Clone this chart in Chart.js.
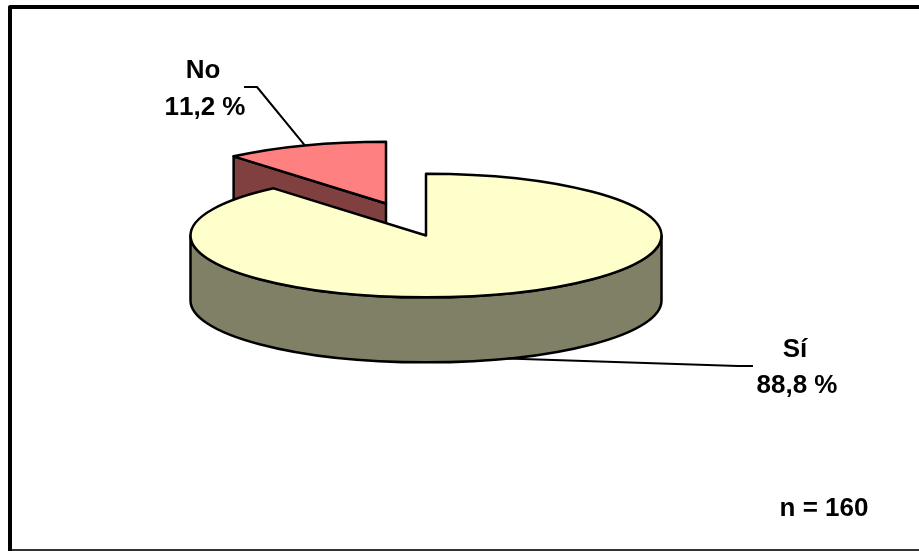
<!DOCTYPE html>
<html>
<head>
<meta charset="utf-8">
<title>Sí / No</title>
<script src="https://cdn.jsdelivr.net/npm/chart.js@4"></script>
<style>
    html, body { margin: 0; padding: 0; background: #fff; }
    #wrap { position: relative; width: 919px; height: 551px; }
    canvas { display: block; }
</style>
</head>
<body>
<div id="wrap"><canvas id="pie_chart" width="919" height="551"></canvas></div>
<script>
const categories = ["Sí", "No"];
const percentages = [88.8, 11.2];
const sampleNote = "n = 160";

const topColors = ["#FFFFCC", "#FF8080"];
const sideColors = ["#808066", "#804040"];

// how the flat pie is laid over on its side
const tilt = 62 / 236;
const depth = 65;
const explode = [{ x: 0, y: 0 }, { x: -40, y: -32 }];

const labelFont = "bold 26px 'Liberation Sans', Arial, sans-serif";

function formatPercent(value) {
    return value.toFixed(1).replace(".", ",") + " %";
}

function piePoint(arc, angle, shift) {
    return {
        x: arc.x + shift.x + Math.cos(angle) * arc.outerRadius,
        y: arc.y + shift.y + Math.sin(angle) * arc.outerRadius * tilt,
    };
}

function drawSlice(ctx, arc, index) {
    const shift = explode[index];
    const cx = arc.x + shift.x;
    const cy = arc.y + shift.y;
    const rx = arc.outerRadius;
    const ry = rx * tilt;
    const start = arc.startAngle;
    const end = arc.endAngle;

    ctx.lineWidth = 2.5;
    ctx.lineJoin = "round";
    ctx.strokeStyle = "#000";
    ctx.fillStyle = sideColors[index];

    // cut face on the left of the exploded slice
    if (index === 1) {
        const p = piePoint(arc, start, shift);
        ctx.beginPath();
        ctx.moveTo(p.x, p.y);
        ctx.lineTo(cx, cy);
        ctx.lineTo(cx, cy + depth);
        ctx.lineTo(p.x, p.y + depth);
        ctx.closePath();
        ctx.fill();
        ctx.stroke();
    }

    // outer wall, only the front half of the rim can be seen
    const wallStart = Math.max(start, 0);
    const wallEnd = Math.min(end, Math.PI);
    if (wallEnd > wallStart) {
        ctx.beginPath();
        ctx.ellipse(cx, cy, rx, ry, 0, wallStart, wallEnd);
        ctx.ellipse(cx, cy + depth, rx, ry, 0, wallEnd, wallStart, true);
        ctx.closePath();
        ctx.fill();
        ctx.stroke();
    }

    // top face
    ctx.fillStyle = topColors[index];
    ctx.beginPath();
    ctx.moveTo(cx, cy);
    ctx.ellipse(cx, cy, rx, ry, 0, start, end);
    ctx.closePath();
    ctx.fill();
    ctx.stroke();
}

function drawLeader(ctx, arc, index, elbow, tail, lower) {
    const mid = (arc.startAngle + arc.endAngle) / 2;
    const p = piePoint(arc, mid, explode[index]);
    ctx.lineWidth = 2;
    ctx.strokeStyle = "#000";
    ctx.beginPath();
    ctx.moveTo(p.x, p.y + (lower ? depth : 0));
    ctx.lineTo(elbow.x, elbow.y);
    ctx.lineTo(tail.x, tail.y);
    ctx.stroke();
}

function drawLabel(ctx, lines, x, y) {
    ctx.fillStyle = "#000";
    ctx.font = labelFont;
    ctx.fontKerning = "none";
    ctx.textAlign = "center";
    ctx.textBaseline = "alphabetic";
    ctx.fillText(lines[0], x[0], y[0]);
    ctx.fillText(lines[1], x[1], y[1]);
}

const tiltedPie = {
    id: "tiltedPie",
    beforeDatasetsDraw(chart) {
        const ctx = chart.ctx;
        const arcs = chart.getDatasetMeta(0).data;

        ctx.save();
        ctx.fillStyle = "#fff";
        ctx.fillRect(0, 0, chart.width, chart.height);

        // No goes behind Sí
        drawSlice(ctx, arcs[1], 1);
        drawSlice(ctx, arcs[0], 0);

        drawLeader(ctx, arcs[1], 1, { x: 257, y: 87 }, { x: 244, y: 87 }, false);
        drawLeader(ctx, arcs[0], 0, { x: 738, y: 366 }, { x: 753, y: 366 }, true);

        drawLabel(ctx, [categories[1], formatPercent(percentages[1])], [203, 205], [78, 115]);
        drawLabel(ctx, [categories[0], formatPercent(percentages[0])], [795, 797], [357, 393]);

        ctx.fillText(sampleNote, 824, 516);

        // outer frame, no line on the right
        ctx.lineWidth = 4;
        ctx.strokeStyle = "#000";
        ctx.beginPath();
        ctx.moveTo(10, 551);
        ctx.lineTo(10, 7);
        ctx.lineTo(919, 7);
        ctx.stroke();
        ctx.lineWidth = 2;
        ctx.strokeStyle = "#333";
        ctx.beginPath();
        ctx.moveTo(12, 550);
        ctx.lineTo(919, 550);
        ctx.stroke();
        ctx.restore();

        return false;
    },
};

new Chart(document.getElementById("pie_chart"), {
    type: "pie",
    data: {
        labels: categories,
        datasets: [{
            data: percentages,
            backgroundColor: topColors,
            borderWidth: 0,
        }],
    },
    options: {
        responsive: false,
        animation: false,
        events: [],
        layout: { padding: { left: 190, right: 257, top: -1, bottom: 80 } },
        plugins: { legend: { display: false }, tooltip: { enabled: false } },
    },
    plugins: [tiltedPie],
});
</script>
</body>
</html>
